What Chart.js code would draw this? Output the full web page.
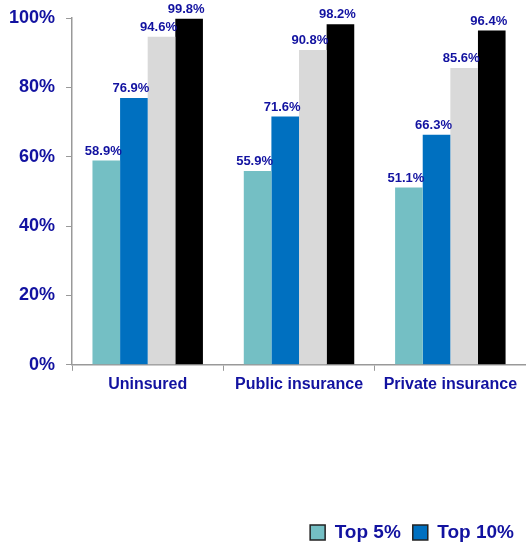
<!DOCTYPE html>
<html>
<head>
<meta charset="utf-8">
<script src="https://cdn.jsdelivr.net/npm/chart.js@4.4.1/dist/chart.umd.min.js"></script>
<style>
  html, body { margin: 0; padding: 0; background: #fff; }
</style>
</head>
<body>
<canvas id="chart" width="526" height="544"></canvas>
<script>
const categories = ['Uninsured', 'Public insurance', 'Private insurance'];
const top5 = [58.9, 55.9, 51.1];
const top10 = [76.9, 71.6, 66.3];
const top20 = [94.6, 90.8, 85.6];
const top50 = [99.8, 98.2, 96.4];
const yTicks = [0, 20, 40, 60, 80, 100];

const navy = '#1212a0';
const font = 'Liberation Sans, Arial, sans-serif';

// value labels above every bar
const valueLabels = {
  id: 'valueLabels',
  afterDatasetsDraw(chart) {
    const c = chart.ctx;
    c.save();
    c.font = 'bold 13px ' + font;
    c.fillStyle = navy;
    c.textAlign = 'center';
    c.textBaseline = 'bottom';
    chart.data.datasets.forEach((ds, i) => {
      chart.getDatasetMeta(i).data.forEach((bar, j) => {
        c.fillText(ds.data[j].toFixed(1) + '%', bar.x - 3, bar.y - 3);
      });
    });
    c.restore();
  }
};

new Chart(document.getElementById('chart').getContext('2d'), {
  type: 'bar',
  data: {
    labels: categories,
    datasets: [
      { label: 'Top 5%', data: top5, backgroundColor: '#74bfc4' },
      { label: 'Top 10%', data: top10, backgroundColor: '#0070c0' },
      { label: 'Top 20%', data: top20, backgroundColor: '#d9d9d9' },
      { label: 'Top 50%', data: top50, backgroundColor: '#000000' }
    ]
  },
  options: {
    responsive: false,
    animation: false,
    datasets: { bar: { barPercentage: 1, categoryPercentage: 0.73 } },
    layout: { padding: { top: 18, right: 0, left: -2, bottom: -8 } },
    scales: {
      x: {
        grid: { drawOnChartArea: false, tickLength: 6, color: '#999', offset: true },
        border: { color: '#999', width: 1.5 },
        ticks: { color: navy, font: { family: font, size: 16, weight: 'bold' }, padding: 4 },
        afterFit(scale) { scale.height += 113; }
      },
      y: {
        min: 0,
        max: 100,
        afterBuildTicks(scale) { scale.ticks = yTicks.map(v => ({ value: v })); },
        afterFit(scale) { scale.paddingTop = 0; },
        grid: { drawOnChartArea: false, tickLength: 6, color: '#999' },
        border: { color: '#999', width: 1.5 },
        ticks: { color: navy, font: { family: font, size: 18, weight: 'bold' }, padding: 11,
          callback: v => v + '%' }
      }
    },
    plugins: {
      legend: {
        position: 'bottom',
        align: 'end',
        labels: {
          color: navy,
          font: { family: font, size: 19, weight: 'bold' },
          boxWidth: 15,
          boxHeight: 15,
          padding: 12,
          filter: item => item.datasetIndex < 2,
          generateLabels(chart) {
            return chart.data.datasets.map((ds, i) => ({
              text: ds.label,
              fillStyle: ds.backgroundColor,
              strokeStyle: '#222',
              lineWidth: 1.5,
              fontColor: navy,
              datasetIndex: i
            }));
          }
        }
      },
      tooltip: { enabled: false }
    }
  },
  plugins: [valueLabels]
});
</script>
</body>
</html>
